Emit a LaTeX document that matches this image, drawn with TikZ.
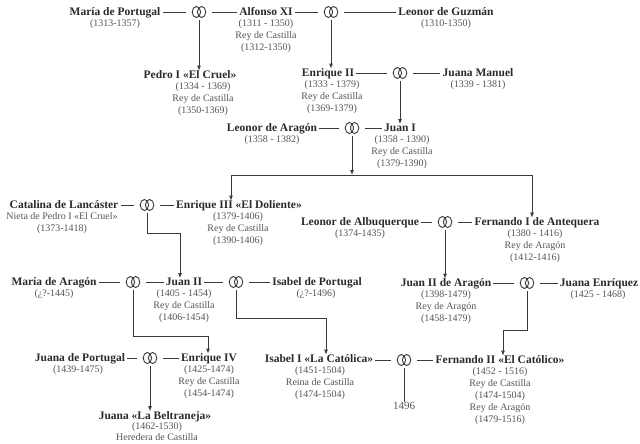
\documentclass[tikz,border=0pt]{standalone}
\usepackage{fontspec}
\setmainfont{Liberation Serif}
\usetikzlibrary{arrows.meta}
\definecolor{nm}{HTML}{2B2B2B}
\definecolor{dt}{HTML}{555555}
\definecolor{ln}{HTML}{3A3A3A}
\tikzset{
 pname/.style={font=\fontsize{11.5}{13}\selectfont\bfseries, text=nm, anchor=base, inner xsep=2pt, inner ysep=0pt},
 pinfo/.style={font=\fontsize{10}{11.8}\selectfont, text=dt, anchor=north, align=center, inner sep=0pt},
 ring/.style={minimum width=26pt, minimum height=16pt, inner sep=0pt},
 conn/.style={draw=ln, line width=0.8pt},
 arr/.style={conn, -{Latex[length=5pt,width=4pt]}},
 ringl/.style={draw=ln, line width=0.9pt},
}
\begin{document}
\begin{tikzpicture}[x=1pt,y=-1pt]
\fill[white] (0,0) rectangle (640,444);
\useasboundingbox (0,0) rectangle (640,444);
% row 1
\node[pname] (maria) at (115,15.8) {María de Portugal};
\node[pinfo] (mariaI) at (115,19.7) {(1313-1357)};
\node[ring] (rA) at (199,12) {};
\node[pname] (alfonso) at (266,15.8) {Alfonso XI};
\node[pinfo] (alfonsoI) at (266,19.7) {(1311 - 1350)\\Rey de Castilla\\(1312-1350)};
\node[ring] (rB) at (331,12) {};
\node[pname] (leonorG) at (446,15.8) {Leonor de Guzmán};
\node[pinfo] (leonorGI) at (446,19.7) {(1310-1350)};
% row 2
\node[pname] (pedro) at (190,78.8) {Pedro I «El Cruel»};
\node[pinfo] (pedroI) at (203,82.7) {(1334 - 1369)\\Rey de Castilla\\(1350-1369)};
\node[pname] (enr2) at (328,76.8) {Enrique II};
\node[pinfo] (enr2I) at (332,80.7) {(1333 - 1379)\\Rey de Castilla\\(1369-1379)};
\node[ring] (rC) at (400,73) {};
\node[pname] (juanaM) at (478,76.8) {Juana Manuel};
\node[pinfo] (juanaMI) at (478,80.7) {(1339 - 1381)};
% row 3
\node[pname] (leonorA) at (272,131.8) {Leonor de Aragón};
\node[pinfo] (leonorAI) at (272,135.7) {(1358 - 1382)};
\node[ring] (rD) at (352,128) {};
\node[pname] (juan1) at (400,131.8) {Juan I};
\node[pinfo] (juan1I) at (402,135.7) {(1358 - 1390)\\Rey de Castilla\\(1379-1390)};
\coordinate (fork) at (352,175);
% row 4
\node[pname] (catalina) at (64,208.8) {Catalina de Lancáster};
\node[pinfo] (catalinaI) at (62,212.7) {Nieta de Pedro I «El Cruel»\\(1373-1418)};
\node[ring] (rE) at (147,205) {};
\node[pname] (enr3) at (239,208.8) {Enrique III «El Doliente»};
\node[pinfo] (enr3I) at (238,212.7) {(1379-1406)\\Rey de Castilla\\(1390-1406)};
\node[pname] (leonorAl) at (360,225.8) {Leonor de Albuquerque};
\node[pinfo] (leonorAlI) at (360,229.7) {(1374-1435)};
\node[ring] (rF) at (445,222) {};
\node[pname] (fer1) at (537,225.8) {Fernando I de Antequera};
\node[pinfo] (fer1I) at (535,229.7) {(1380 - 1416)\\Rey de Aragón\\(1412-1416)};
% row 5
\node[pname] (mariaA) at (54,285.8) {María de Aragón};
\node[pinfo] (mariaAI) at (54,289.7) {(¿?-1445)};
\node[ring] (rG) at (133,282) {};
\node[pname] (juan2) at (184,285.8) {Juan II};
\node[pinfo] (juan2I) at (184,289.7) {(1405 - 1454)\\Rey de Castilla\\(1406-1454)};
\node[ring] (rH) at (236,282) {};
\node[pname] (isabelP) at (317,285.8) {Isabel de Portugal};
\node[pinfo] (isabelPI) at (316,289.7) {(¿?-1496)};
\node[pname] (juan2A) at (446,286.8) {Juan II de Aragón};
\node[pinfo] (juan2AI) at (446,290.7) {(1398-1479)\\Rey de Aragón\\(1458-1479)};
\node[ring] (rI) at (527,283) {};
\node[pname] (juanaE) at (599,286.8) {Juana Enríquez};
\node[pinfo] (juanaEI) at (598,290.7) {(1425 - 1468)};
% row 6
\node[pname] (juanaP) at (80,361.8) {Juana de Portugal};
\node[pinfo] (juanaPI) at (78,365.7) {(1439-1475)};
\node[ring] (rJ) at (150,358) {};
\node[pname] (enr4) at (209,361.8) {Enrique IV};
\node[pinfo] (enr4I) at (209,365.7) {(1425-1474)\\Rey de Castilla\\(1454-1474)};
\node[pname] (isabel1) at (319,362.8) {Isabel I «La Católica»};
\node[pinfo] (isabel1I) at (320,366.7) {(1451-1504)\\Reina de Castilla\\(1474-1504)};
\node[ring] (rK) at (404,360) {};
\node[pname] (fer2) at (500,363.8) {Fernando II «El Católico»};
\node[pinfo] (fer2I) at (500,367.7) {(1452 - 1516)\\Rey de Castilla\\(1474-1504)\\Rey de Aragón\\(1479-1516)};
\node[font=\fontsize{11}{13}\selectfont, text=dt, inner sep=0pt] (y1496) at (404,406) {1496};
% row 7
\node[pname] (juanaB) at (155,419.3) {Juana «La Beltraneja»};
\node[pinfo, font=\fontsize{10}{11}\selectfont] (juanaBI) at (157,422.6) {(1462-1530)\\Heredera de Castilla};
% rings
\foreach \r in {rA,rB,rC,rD,rE,rF,rG,rH,rI,rJ,rK}{
  \draw[ringl] ([xshift=-2.6pt]\r.center) ellipse [x radius=4.2pt, y radius=5.5pt];
  \draw[ringl] ([xshift=2.6pt]\r.center) ellipse [x radius=4.2pt, y radius=5.5pt];
}
% marriage lines
\draw[conn] (rA.west) -- (rA.west -| maria.east);
\draw[conn] (rA.east) -- (rA.east -| alfonso.west);
\draw[conn] (rB.west) -- (rB.west -| alfonso.east);
\draw[conn] (rB.east) -- (rB.east -| leonorG.west);
\draw[conn] (rC.west) -- (rC.west -| enr2.east);
\draw[conn] (rC.east) -- (rC.east -| juanaM.west);
\draw[conn] (rD.west) -- (rD.west -| leonorA.east);
\draw[conn] (rD.east) -- (rD.east -| juan1.west);
\draw[conn] (rE.west) -- (rE.west -| catalina.east);
\draw[conn] (rE.east) -- (rE.east -| enr3.west);
\draw[conn] (rF.west) -- (rF.west -| leonorAl.east);
\draw[conn] (rF.east) -- (rF.east -| fer1.west);
\draw[conn] (rG.west) -- (rG.west -| mariaA.east);
\draw[conn] (rG.east) -- (rG.east -| juan2.west);
\draw[conn] (rH.west) -- (rH.west -| juan2.east);
\draw[conn] (rH.east) -- (rH.east -| isabelP.west);
\draw[conn] (rI.west) -- (rI.west -| juan2A.east);
\draw[conn] (rI.east) -- (rI.east -| juanaE.west);
\draw[conn] (rJ.west) -- (rJ.west -| juanaP.east);
\draw[conn] (rJ.east) -- (rJ.east -| enr4.west);
\draw[conn] (rK.west) -- (rK.west -| isabel1.east);
\draw[conn] (rK.east) -- (rK.east -| fer2.west);
% descent
\draw[arr] (rA.south) -- (rA.south |- pedro.north);
\draw[arr] (rB.south) -- (rB.south |- enr2.north);
\draw[arr] (rC.south) -- (rC.south |- juan1.north);
\draw[arr] (rD.south) -- (fork);
\draw[arr] (fork) -| ([xshift=-8pt]enr3.north);
\draw[arr] (fork) -| ([xshift=-5pt]fer1.north);
\draw[arr] (rE.south) -- ++(0,20) -| ([xshift=-4pt]juan2.north);
\draw[arr] (rF.south) -- (rF.south |- juan2A.north);
\draw[arr] (rG.south) -- ++(0,46) -| ([xshift=-1pt]enr4.north);
\draw[arr] (rH.south) -- ++(0,28) -| ([xshift=7pt]isabel1.north);
\draw[arr] (rI.south) -- ++(0,39) -| ([xshift=3pt]fer2.north);
\draw[arr] (rJ.south) -- (rJ.south |- juanaB.north);
\draw[conn] (rK.south) -- (y1496.north);
\end{tikzpicture}
\end{document}
